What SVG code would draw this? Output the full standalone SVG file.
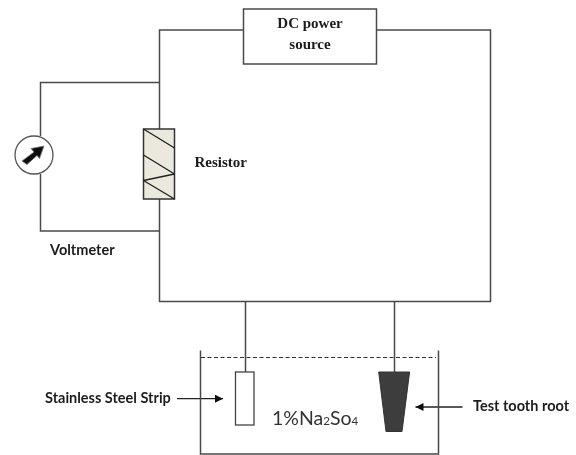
<svg xmlns="http://www.w3.org/2000/svg" width="576" height="455" viewBox="0 0 576 455">
<defs>
<style>
.w{fill:none;stroke:#4a4a4a;stroke-width:1.5}
.s{font-family:"Liberation Serif",serif;font-weight:bold;font-size:15px;fill:#1c1c1c}
.c{font-family:Lato,"Open Sans",sans-serif;font-weight:bold;font-size:14.500px;fill:#1c1c1c}
.a{fill:none;stroke:#222;stroke-width:1.3;marker-end:url(#ah)}
</style>
<marker id="ah" markerUnits="userSpaceOnUse" markerWidth="9" markerHeight="8" refX="8" refY="4" orient="auto"><path d="M0 0L8 4L0 8Z" fill="#111"/></marker>
<filter id="b" x="-5%" y="-5%" width="110%" height="110%"><feGaussianBlur stdDeviation="0.35"/></filter>
</defs>
<rect width="576" height="455" fill="#fff"/>
<g filter="url(#b)">
<g id="connectors">
<path class="w" d="M243.500 30H159.500V301.500H490.500V30H376.500"/>
<path class="w" d="M159.500 82.500H40.500V136M40.500 174V231H159.500"/>
<path class="w" d="M245.500 302V372M394.500 302V372"/>
<path class="a" d="M177 398.700H223"/>
<path class="a" d="M462.500 407H415.500"/>
</g>
<g id="dc-source">
<rect x="243.500" y="9" width="133" height="55" fill="#fff" stroke="#4a4a4a" stroke-width="1.500"/>
<text class="s" x="310" y="28" text-anchor="middle">DC power</text>
<text class="s" x="310" y="49" text-anchor="middle">source</text>
</g>
<g id="voltmeter">
<circle cx="34" cy="155" r="19" fill="#fff" stroke="#555" stroke-width="1.300"/>
<path d="M22 161L34 152L31 148.500L44 146L39.500 158.500L37 155.500L27 164.500Z" fill="#111" stroke="#777" stroke-width="0.800"/>
<text class="c" x="50" y="255">Voltmeter</text>
</g>
<g id="resistor">
<rect x="143.500" y="129" width="31" height="70" fill="#ebe9dd" stroke="#333" stroke-width="1.500"/>
<path d="M143.500 129L174.500 148M143.500 155L174.500 174M143.500 180.500L174.500 174M143.500 180.500L174.500 199" fill="none" stroke="#222" stroke-width="1.400"/>
<text class="s" x="194.500" y="167">Resistor</text>
</g>
<g id="tank">
<path class="w" d="M200.500 350.500V454H438.500V350.500"/>
<path d="M201 357.500H436" fill="none" stroke="#333" stroke-width="1.200" stroke-dasharray="4 2.500"/>
<text x="272" y="425" font-family="Lato,'Open Sans',sans-serif" font-size="19.500" fill="#333">1%Na<tspan font-size="11.500">2</tspan>So<tspan font-size="11.500">4</tspan></text>
</g>
<g id="stainless-steel-strip">
<rect x="235.500" y="372" width="18.500" height="53" fill="#fff" stroke="#444" stroke-width="1.300"/>
<text class="c" x="45" y="403">Stainless Steel Strip</text>
</g>
<g id="test-tooth-root">
<path d="M378.700 372H409.600L402 431.500H386Z" fill="#3c3c3c" stroke="#333"/>
<text class="c" x="473" y="411">Test tooth root</text>
</g>
</g>
</svg>
